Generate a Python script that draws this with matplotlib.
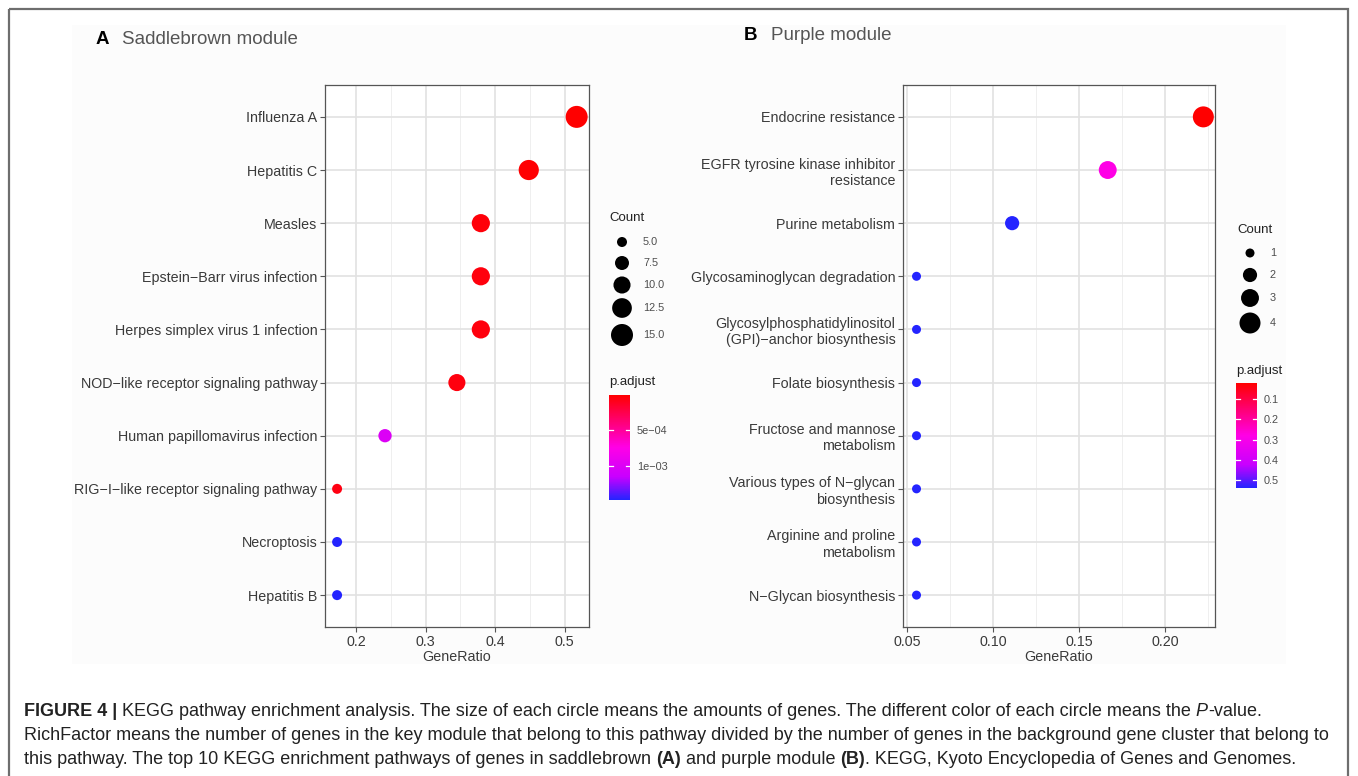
import numpy as np
import matplotlib
matplotlib.use("Agg")
import matplotlib.pyplot as plt
from matplotlib.colors import LinearSegmentedColormap, Normalize
from matplotlib.patches import Rectangle
import matplotlib.colorbar as mcolorbar

plt.rcParams['font.family'] = ['Liberation Sans', 'DejaVu Sans']

# ---------------- data ----------------
a_terms = ["Influenza A", "Hepatitis C", "Measles", "Epstein\u2212Barr virus infection",
           "Herpes simplex virus 1 infection", "NOD\u2212like receptor signaling pathway",
           "Human papillomavirus infection", "RIG\u2212I\u2212like receptor signaling pathway",
           "Necroptosis", "Hepatitis B"]
a_count = [15, 13, 11, 11, 11, 10, 7, 5, 5, 5]
a_ratio = [15/29, 13/29, 11/29, 11/29, 11/29, 10/29, 7/29, 5/29, 5/29, 5/29]
a_padj = [1.0e-5, 2.0e-5, 4.0e-5, 5.0e-5, 5.0e-5, 6.0e-5, 1.0e-3, 7.0e-5, 1.47e-3, 1.47e-3]
a_xticks = [0.2, 0.3, 0.4, 0.5]
a_xticklabels = ["0.2", "0.3", "0.4", "0.5"]
a_size_breaks = [5.0, 7.5, 10.0, 12.5, 15.0]
a_size_labels = ["5.0", "7.5", "10.0", "12.5", "15.0"]
a_cbar_ticks = [5e-4, 1e-3]
a_cbar_labels = ["5e\u221204", "1e\u221203"]

b_terms = ["Endocrine resistance", "EGFR tyrosine kinase inhibitor\nresistance",
           "Purine metabolism", "Glycosaminoglycan degradation",
           "Glycosylphosphatidylinositol\n(GPI)\u2212anchor biosynthesis",
           "Folate biosynthesis", "Fructose and mannose\nmetabolism",
           "Various types of N\u2212glycan\nbiosynthesis", "Arginine and proline\nmetabolism",
           "N\u2212Glycan biosynthesis"]
b_count = [4, 3, 2, 1, 1, 1, 1, 1, 1, 1]
b_ratio = [4/18, 3/18, 2/18, 1/18, 1/18, 1/18, 1/18, 1/18, 1/18, 1/18]
b_padj = [0.02, 0.28, 0.54, 0.54, 0.54, 0.54, 0.54, 0.54, 0.54, 0.54]
b_xticks = [0.05, 0.10, 0.15, 0.20]
b_xticklabels = ["0.05", "0.10", "0.15", "0.20"]
b_size_breaks = [1, 2, 3, 4]
b_size_labels = ["1", "2", "3", "4"]
b_cbar_ticks = [0.1, 0.2, 0.3, 0.4, 0.5]
b_cbar_labels = ["0.1", "0.2", "0.3", "0.4", "0.5"]

# ---------------- setup ----------------
W, H = 1358, 776
fig = plt.figure(figsize=(W/100, H/100), dpi=100)
fig.patch.set_facecolor('white')

ov = fig.add_axes([0, 0, 1, 1], zorder=-5)
ov.set_xlim(0, W)
ov.set_ylim(H, 0)
ov.axis('off')
ov.add_patch(Rectangle((9, 9), 1339, 800, fill=False, edgecolor='#6e6e6e', lw=1.6))
ov.add_patch(Rectangle((72, 25), 1214, 639, facecolor='#fcfcfc', edgecolor='none'))

cmap = LinearSegmentedColormap.from_list('padj', [(0, '#FF0000'), (0.5, '#FF00E6'),
                                                  (0.78, '#C800FF'), (1, '#2424FF')])

TXT = '#3a3a3a'


def px2fig(x0, y0, x1, y1):
    return [x0 / W, 1 - y1 / H, (x1 - x0) / W, (y1 - y0) / H]


def size_px(counts, cmin, cmax, dmin, dmax):
    c = np.asarray(counts, float)
    area = dmin**2 + (c - cmin) / (cmax - cmin) * (dmax**2 - dmin**2)
    return np.sqrt(area)


def dot_panel(box, terms, ratio, count, padj, xlim, xticks, xticklabels, minor,
              cmin, cmax, dmin, dmax, vmin, vmax):
    ax = fig.add_axes(px2fig(*box))
    n = len(terms)
    ypos = np.arange(n)[::-1] + 1
    ax.set_xlim(*xlim)
    ax.set_ylim(0.4, n + 0.6)
    for v in minor:
        ax.axvline(v, color='#efefef', lw=0.7, zorder=0)
    for v in xticks:
        ax.axvline(v, color='#e2e2e2', lw=1.2, zorder=0)
    for y in ypos:
        ax.axhline(y, color='#e2e2e2', lw=1.2, zorder=0)
    d = size_px(count, cmin, cmax, dmin, dmax) * 0.72
    norm = Normalize(vmin, vmax)
    ax.scatter(ratio, ypos, s=d**2, c=padj, cmap=cmap, norm=norm,
               edgecolors='none', zorder=3)
    ax.set_yticks(ypos)
    ax.set_yticklabels(terms, fontsize=10.3, color=TXT, linespacing=1.2)
    ax.set_xticks(xticks)
    ax.set_xticklabels(xticklabels, fontsize=10.3, color=TXT)
    ax.tick_params(length=3.5, width=0.8, color='#555555', pad=2)
    ax.set_xlabel("GeneRatio", fontsize=10.3, color=TXT, labelpad=1)
    for s in ax.spines.values():
        s.set_color('#555555')
        s.set_linewidth(0.9)
    ax.set_facecolor('white')
    return ax


axA = dot_panel((325, 85, 589, 627), a_terms, a_ratio, a_count, a_padj,
                (0.155, 0.535), a_xticks, a_xticklabels, [0.25, 0.35, 0.45],
                5, 15, 10, 22, 1.0e-5, 1.47e-3)
axB = dot_panel((903, 85, 1215, 627), b_terms, b_ratio, b_count, b_padj,
                (0.0477, 0.229), b_xticks, b_xticklabels, [0.075, 0.125, 0.175, 0.225],
                1, 4, 9, 21, 0.02, 0.54)


def size_legend(x, ytitle, ys, breaks, labels, cmin, cmax, dmin, dmax, labx):
    ov.text(x, ytitle, "Count", fontsize=9.5, color='#222222', va='center', ha='left')
    d = size_px(breaks, cmin, cmax, dmin, dmax) * 0.72
    ov.scatter([x + 13] * len(breaks), ys, s=d**2, c='black', edgecolors='none')
    for yy, lab in zip(ys, labels):
        ov.text(labx, yy, lab, fontsize=7.8, color='#4d4d4d', va='center', ha='left')


size_legend(609, 218, [242, 263, 285, 308, 335], a_size_breaks, a_size_labels,
            5, 15, 10, 22, 643)
size_legend(1237, 230, [253, 275, 298, 323], b_size_breaks, b_size_labels,
            1, 4, 9, 21, 1270)


def cbar(box, title_xy, vmin, vmax, ticks, labels):
    cax = fig.add_axes(px2fig(*box))
    cb = mcolorbar.ColorbarBase(cax, cmap=cmap, norm=Normalize(vmin, vmax),
                                orientation='vertical')
    cb.outline.set_visible(False)
    cax.invert_yaxis()
    cax.set_yticks(ticks)
    cax.set_yticklabels(labels, fontsize=7.8, color='#4d4d4d')
    cax.tick_params(length=0, pad=5)
    for t in ticks:
        cax.axhline(t, xmin=0, xmax=0.2, color='white', lw=0.9)
        cax.axhline(t, xmin=0.8, xmax=1, color='white', lw=0.9)
    ov.text(title_xy[0], title_xy[1], "p.adjust", fontsize=9.5, color='#222222',
            va='center', ha='left')


cbar((609, 395, 630, 500), (609, 382), 1.0e-5, 1.47e-3, a_cbar_ticks, a_cbar_labels)
cbar((1236, 383, 1257, 488), (1236, 371), 0.02, 0.54, b_cbar_ticks, b_cbar_labels)

# panel titles
ov.text(96, 39, "A", fontsize=13.5, fontweight='bold', color='black', va='center')
ov.text(122, 39, "Saddlebrown module", fontsize=13.5, color='#555555', va='center')
ov.text(744, 35, "B", fontsize=13.5, fontweight='bold', color='black', va='center')
ov.text(771, 35, "Purple module", fontsize=13.5, color='#555555', va='center')

# caption with mixed styles
fig.canvas.draw()
renderer = fig.canvas.get_renderer()
CAP_FS = 12.95


def runs(x, y, parts):
    for txt, wt, st in parts:
        t = ov.text(x, y, txt, fontsize=CAP_FS, fontweight=wt, fontstyle=st,
                    color='#222222', va='center', ha='left')
        bb = t.get_window_extent(renderer)
        x += bb.width


runs(24, 712, [("FIGURE 4 | ", 'bold', 'normal'),
               ("KEGG pathway enrichment analysis. The size of each circle means the amounts of genes. "
                "The different color of each circle means the", 'normal', 'normal'),
               (" P", 'normal', 'italic'), ("-value.", 'normal', 'normal')])
runs(24, 736, [("RichFactor means the number of genes in the key module that belong to this pathway "
                "divided by the number of genes in the background gene cluster that belong to",
                'normal', 'normal')])
runs(24, 760, [("this pathway. The top 10 KEGG enrichment pathways of genes in saddlebrown ", 'normal', 'normal'),
               ("(A)", 'bold', 'normal'), (" and purple module ", 'normal', 'normal'),
               ("(B)", 'bold', 'normal'),
               (". KEGG, Kyoto Encyclopedia of Genes and Genomes.", 'normal', 'normal')])

fig.savefig("out.png", dpi=100, facecolor='white')
